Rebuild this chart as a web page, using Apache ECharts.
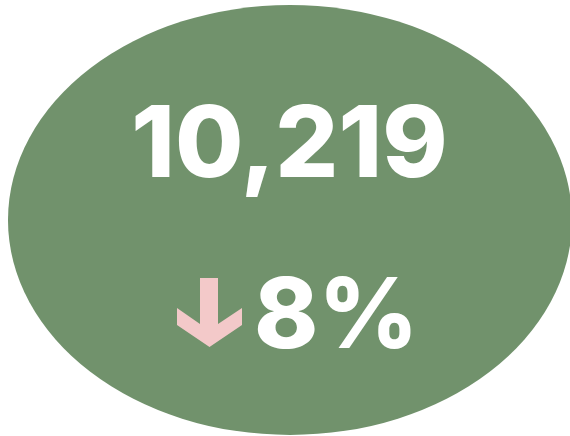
<!DOCTYPE html>
<html>
<head>
<meta charset="utf-8">
<script src="https://cdn.jsdelivr.net/npm/echarts@6/dist/echarts.min.js"></script>
<style>
  html, body { margin: 0; padding: 0; background: #fff; }
  #chart { width: 570px; height: 436px; }
</style>
</head>
<body>
<div id="chart"></div>
<script>
// KPI 数据
var kpiValue = [10219];
var kpiChange = [-8];

var myChart = echarts.init(document.getElementById('chart'));

var green = '#71926c';
var pink = '#f3c9c9';
var font = 'Inter';

function fmtNum(v) {
  return v.toString().replace(/\B(?=(\d{3})+(?!\d))/g, ',');
}

// 下降箭头
var arrowPath = 'path://M23 0 L41 0 L41 46 L65 30 L65 47 L32.5 69 L0 47 L0 30 L23 46 Z';

option = {
  animation: false,
  grid: { left: 0, right: 0, top: 0, bottom: 0 },
  xAxis: { type: 'value', min: 0, max: 570, show: false },
  yAxis: { type: 'value', min: 0, max: 436, inverse: true, show: false },
  series: [
    {
      // 背景椭圆
      type: 'scatter',
      symbol: 'circle',
      symbolSize: [564, 430],
      itemStyle: { color: green, opacity: 1 },
      silent: true,
      data: [[290, 220]]
    },
    {
      // 主数值
      type: 'scatter',
      symbolSize: 0,
      itemStyle: { opacity: 1 },
      data: kpiValue.map(function (v) { return { value: [289.5, 147], raw: v }; }),
      label: {
        show: true,
        position: 'inside',
        color: '#fff',
        fontFamily: font,
        fontWeight: 800,
        fontSize: 99,
        formatter: function (p) { return fmtNum(p.data.raw); }
      }
    },
    {
      // 箭头
      type: 'scatter',
      symbol: arrowPath,
      symbolSize: [65, 69],
      itemStyle: { color: pink, opacity: 1 },
      data: kpiChange.map(function (v) { return { value: [209.5, 312.5], raw: v }; })
    },
    {
      // 变化百分比
      type: 'scatter',
      symbolSize: 0,
      itemStyle: { opacity: 1 },
      data: kpiChange.map(function (v) { return { value: [254, 319], raw: v }; }),
      label: {
        show: true,
        position: 'right',
        distance: 0,
        color: '#fff',
        fontFamily: font,
        fontWeight: 800,
        fontSize: 97,
        formatter: function (p) { return Math.abs(p.data.raw) + '%'; }
      }
    }
  ]
};

myChart.setOption(option);
</script>
</body>
</html>
